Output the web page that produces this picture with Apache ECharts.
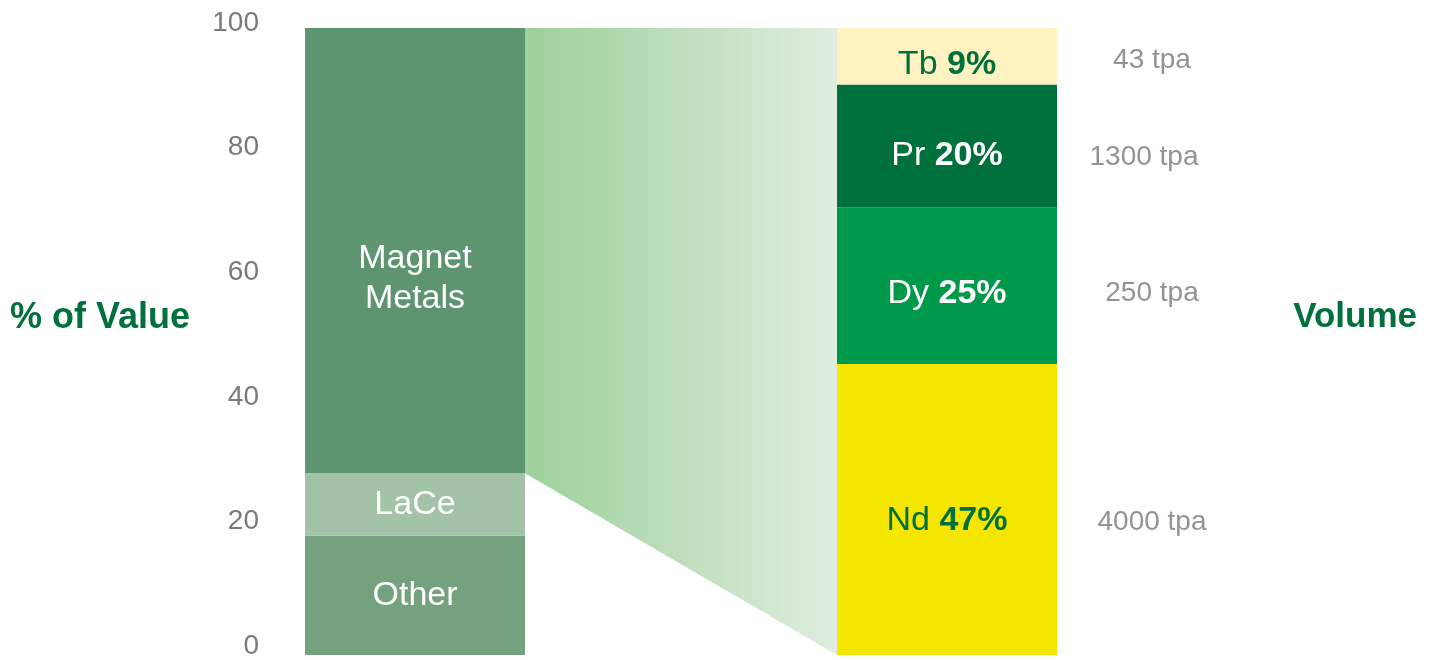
<!DOCTYPE html>
<html>
<head>
<meta charset="utf-8">
<script src="https://cdn.jsdelivr.net/npm/echarts@6/dist/echarts.min.js"></script>
<style>html,body{margin:0;padding:0;background:#fff}#c{width:1433px;height:660px}</style>
</head>
<body>
<div id="c"></div>
<script>
// ---- data ----
var categories = ['% of Value', 'Volume'];
var valueNames = ['Other', 'LaCe', 'Magnet\nMetals'];
var valueShares = [19, 10, 71];
var volumeNames = ['Nd', 'Dy', 'Pr', 'Tb'];
var volumeShares = [46.4, 25, 19.6, 9];
var volumePctLabels = ['47%', '25%', '20%', '9%'];
var volumeTonnes = ['4000 tpa', '250 tpa', '1300 tpa', '43 tpa'];
var axisTicks = [0, 20, 40, 60, 80, 100];

// ---- styles ----
var FONT = 'Liberation Sans, Arial, sans-serif';
var DARK = '#00713d';
var valueColors = ['#74a27f', '#a3c3a9', '#5e9570'];
var valueLabelOffsets = [[0, 0], [0, 0], [0, 28]];
var volumeColors = ['#f4e600', '#00994a', '#00713d', '#fef2c0'];
var volumeLabelColors = [DARK, '#ffffff', '#ffffff', DARK];
var volumeLabelOffsets = [[0, 11], [0, 8], [0, 10], [0, 8]];
var tonOffsets = [[205, 13], [205, 8], [197, 11], [205, 4]];
var BAR_W = 220;

var chart = echarts.init(document.getElementById('c'), null, {renderer: 'canvas'});

var series = [];

// connector trapezoid
series.push({
  type: 'custom',
  xAxisIndex: 1, yAxisIndex: 1,
  z: 1,
  silent: true,
  data: [[0, 0]],
  renderItem: function (params, api) {
    var lowTop = valueShares[0] + valueShares[1];
    var pTopL = api.coord([0, axisTicks[axisTicks.length - 1]]);
    var pLowL = api.coord([0, lowTop]);
    var pTopR = api.coord([1, axisTicks[axisTicks.length - 1]]);
    var pBotR = api.coord([1, 0]);
    var half = BAR_W / 2;
    return {
      type: 'polygon',
      shape: {points: [
        [pTopL[0] + half, pTopL[1]],
        [pTopR[0] - half, pTopR[1]],
        [pBotR[0] - half, pBotR[1]],
        [pLowL[0] + half, pLowL[1]]
      ]},
      style: {
        fill: new echarts.graphic.LinearGradient(0, 0, 1, 0, [
          {offset: 0, color: '#9dd09a'},
          {offset: 1, color: '#dfeddf'}
        ])
      }
    };
  }
});

valueNames.forEach(function (n, i) {
  series.push({
    type: 'bar', name: n, stack: 's', xAxisIndex: 1, yAxisIndex: 1,
    barWidth: BAR_W, z: 3,
    data: [valueShares[i], '-'],
    itemStyle: {color: valueColors[i]},
    label: {
      show: true, position: 'inside', formatter: n,
      color: '#fff', fontSize: 34, fontFamily: FONT, lineHeight: 40,
      offset: valueLabelOffsets[i]
    }
  });
});

volumeNames.forEach(function (n, i) {
  series.push({
    type: 'bar', name: n, stack: 's', xAxisIndex: 1, yAxisIndex: 1,
    barWidth: BAR_W, z: 3,
    data: ['-', volumeShares[i]],
    itemStyle: {color: volumeColors[i]},
    label: {
      show: true, position: 'inside',
      formatter: '{a|' + n + ' }{b|' + volumePctLabels[i] + '}',
      offset: volumeLabelOffsets[i],
      rich: {
        a: {color: volumeLabelColors[i], fontSize: 34, fontFamily: FONT},
        b: {color: volumeLabelColors[i], fontSize: 34, fontFamily: FONT, fontWeight: 'bold'}
      }
    }
  });
});

// tonnage labels
var cum = 0;
var tonData = volumeShares.map(function (v, i) {
  var mid = cum + v / 2; cum += v;
  return {value: [1, mid], label: {formatter: volumeTonnes[i], offset: tonOffsets[i]}};
});
series.push({
  type: 'scatter', xAxisIndex: 1, yAxisIndex: 1, symbolSize: 0, silent: true, z: 4,
  data: tonData,
  label: {show: true, position: 'inside', color: '#787878', fontSize: 28, fontFamily: FONT}
});

var option = {
  animation: false,
  backgroundColor: '#ffffff',
  grid: [
    {left: 267, top: 23, width: 10, height: 628},
    {left: 149, top: 28, width: 1064, height: 627}
  ],
  xAxis: [
    {type: 'value', gridIndex: 0, show: false},
    {type: 'category', gridIndex: 1, data: categories, show: false}
  ],
  yAxis: [
    {type: 'value', gridIndex: 0, min: axisTicks[0], max: axisTicks[axisTicks.length - 1], interval: axisTicks[1] - axisTicks[0],
     axisLine: {show: false}, axisTick: {show: false}, splitLine: {show: false},
     axisLabel: {color: '#7a7a7a', fontSize: 28, fontFamily: FONT, margin: 8}},
    {type: 'value', gridIndex: 1, min: 0, max: 100, show: false}
  ],
  graphic: [
    {type: 'text', left: 10, top: 300, style: {text: '% of Value', font: 'bold 36px ' + FONT, fill: DARK}},
    {type: 'text', right: 16, top: 300, style: {text: 'Volume', font: 'bold 35px ' + FONT, fill: DARK}}
  ],
  series: series
};
chart.setOption(option);
</script>
</body>
</html>
